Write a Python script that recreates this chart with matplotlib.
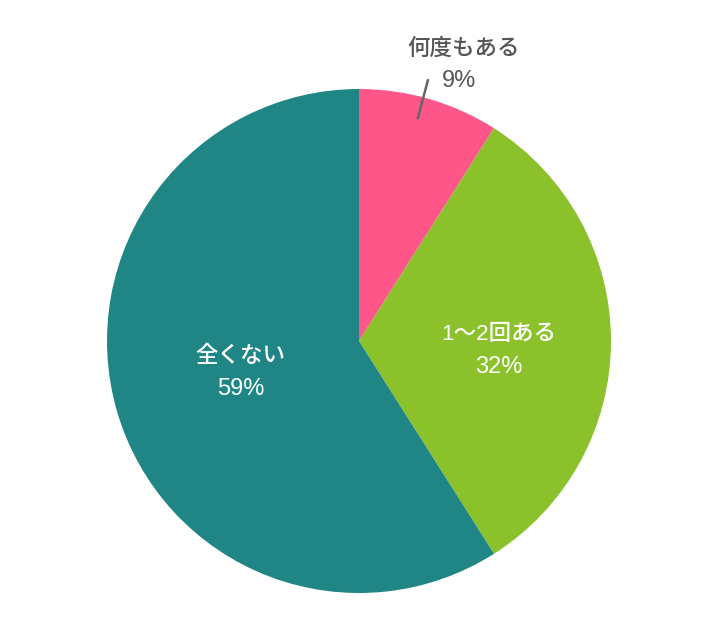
import numpy as np
import matplotlib.pyplot as plt

plt.rcParams['font.family'] = ['Liberation Sans', 'Noto Sans CJK JP', 'DejaVu Sans']

labels = ['何度もある', '1〜2回ある', '全くない']
shares = [9, 32, 59]
colors = ['#FF5689', '#8BC12A', '#1F8685']

W, H = 710, 630
cx, cy, R = 359, H - 341, 252

fig = plt.figure(figsize=(7.1, 6.3), dpi=100)
ax = fig.add_axes([0, 0, 1, 1])

wedges, _ = ax.pie(shares, colors=colors, startangle=90, counterclock=False,
                   center=(cx, cy), radius=R, frame=True,
                   wedgeprops=dict(linewidth=0))
ax.set_xlim(0, W)
ax.set_ylim(0, H)
ax.set_aspect('equal')
ax.axis('off')

fs = 16.2
fs_pct = 17
for w, lab, val in zip(wedges, labels, shares):
    mid = np.deg2rad((w.theta1 + w.theta2) / 2)
    if val < 15:
        # small slice: label outside with leader line
        a = mid + np.deg2rad(1.4)
        x0, y0 = cx + 0.915 * R * np.cos(a), cy + 0.915 * R * np.sin(a)
        x1, y1 = cx + 1.07 * R * np.cos(a), cy + 1.07 * R * np.sin(a)
        ax.plot([x0, x1], [y0, y1], color='#666666', lw=1.8)
        ax.text(x1 + 36, y1 + 31, lab, ha='center', va='center',
                fontsize=fs, color='#555555', fontweight='medium')
        ax.text(x1 + 31, y1 - 1, f'{val}%', ha='center', va='center',
                fontsize=fs_pct, color='#555555')
    else:
        r = 0.555 * R if val < 50 else 0.49 * R
        x, y = cx + r * np.cos(mid), cy + r * np.sin(mid)
        if val < 50:
            y -= 10
        else:
            y += 2
        ax.text(x, y + 17, lab, ha='center', va='center',
                fontsize=fs, color='white', fontweight='medium')
        ax.text(x, y - 16, f'{val}%', ha='center', va='center',
                fontsize=fs_pct, color='white')

fig.savefig('out.png', dpi=100)
